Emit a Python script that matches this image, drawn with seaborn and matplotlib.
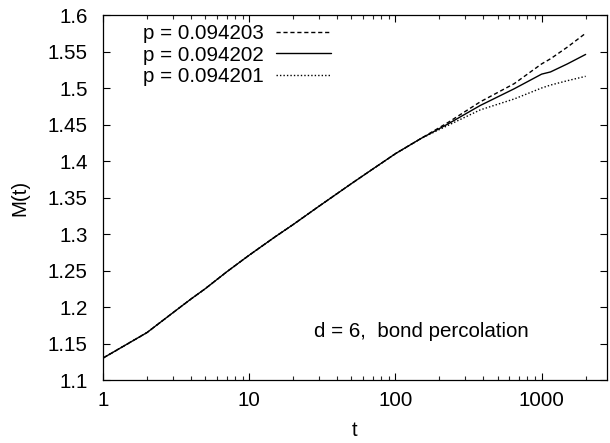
import numpy as np
import pandas as pd
import matplotlib
matplotlib.use("Agg")
import matplotlib.pyplot as plt
import seaborn as sns
from matplotlib.ticker import LogLocator, NullFormatter, FormatStrFormatter

# valores
t_comum = [1, 2, 3, 4, 5, 7, 10, 15, 20, 30, 50, 70, 100, 150]
m_comum = [1.130, 1.165, 1.192, 1.211, 1.225, 1.248, 1.271, 1.296, 1.313,
           1.338, 1.369, 1.389, 1.410, 1.431]

t_fim = [230, 380, 650, 1000, 1150, 1500, 2000]
m_fim_203 = [1.453, 1.481, 1.506, 1.533, 1.540, 1.556, 1.575]
m_fim_202 = [1.451, 1.476, 1.499, 1.519, 1.522, 1.533, 1.546]
m_fim_201 = [1.449, 1.470, 1.485, 1.500, 1.504, 1.510, 1.516]

rotulos = ["p = 0.094203", "p = 0.094202", "p = 0.094201"]
estilos = [(0, (3, 2)), "-", (0, (1, 1.5))]

sns.set_style("ticks")
plt.rcParams["font.family"] = ["Liberation Sans", "DejaVu Sans"]
plt.rcParams["text.color"] = "black"
plt.rcParams["axes.labelcolor"] = "black"
fs = 14.8

df = pd.concat([
    pd.DataFrame({"t": t_comum + t_fim, "M": m_comum + m, "p": r})
    for r, m in zip(rotulos, [m_fim_203, m_fim_202, m_fim_201])
])

fig = plt.figure(figsize=(6.1, 4.43), dpi=100)
ax = fig.add_axes([103 / 610, 1 - 380 / 443, 504 / 610, 365 / 443])

for r, ls in zip(rotulos, estilos):
    sub = df[df["p"] == r]
    sns.lineplot(data=sub, x="t", y="M", ax=ax, color="black", linestyle=ls,
                 linewidth=1.0, label=r, errorbar=None)

ax.set_xscale("log")
ax.set_xlim(1, 2800)
ax.set_ylim(1.1, 1.6)
ax.set_xticks([1, 10, 100, 1000], labels=["1", "10", "100", "1000"])
ax.xaxis.set_minor_locator(LogLocator(base=10, subs=np.arange(2, 10)))
ax.xaxis.set_minor_formatter(NullFormatter())
ax.set_yticks(np.arange(1.1, 1.601, 0.05))
ax.yaxis.set_major_formatter(FormatStrFormatter("%g"))

ax.tick_params(which="major", direction="in", top=True, right=True,
               length=5, width=0.8, labelsize=fs, colors="black")
ax.tick_params(which="minor", direction="in", top=True, right=True,
               length=3, width=0.8)
ax.tick_params(axis="x", pad=8)
ax.tick_params(axis="y", pad=11)
for s in ax.spines.values():
    s.set_color("black")
    s.set_linewidth(0.9)

ax.set_xlabel("t", fontsize=fs)
ax.set_ylabel("M(t)", fontsize=fs)
ax.xaxis.set_label_coords(0.5, -0.112)
ax.yaxis.set_label_coords(-0.147, 0.5)

ax.text(27.9, 1.167, "d = 6,  bond percolation", fontsize=fs, va="center")

ax.legend(loc="upper left", bbox_to_anchor=(0.079, 0.975), frameon=False,
          markerfirst=False, handlelength=2.7, handletextpad=0.6,
          labelspacing=0.12, borderpad=0, borderaxespad=0, fontsize=fs)

fig.savefig("out.png", dpi=100)
